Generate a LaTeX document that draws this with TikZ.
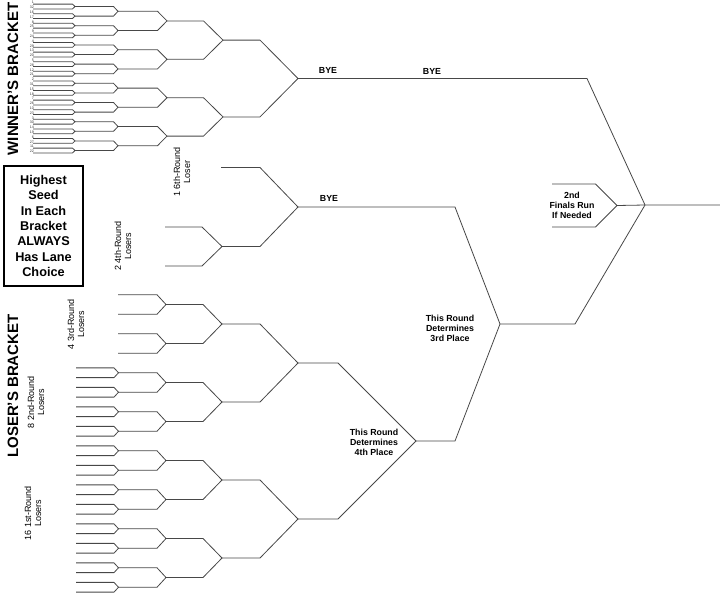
\documentclass[tikz,border=0pt]{standalone}
\usepackage{fontspec}
\setmainfont{Liberation Sans}
\usetikzlibrary{positioning}

% one bout: start x, bend x, tip x, centre y, half gap, name of tip
\newcommand\bout[6]{%
  \draw[ln] (#1,#4-#5) -- (#2,#4-#5) -- (#3,#4) coordinate (#6) -- (#2,#4+#5) -- (#1,#4+#5);}

\begin{document}
\begin{tikzpicture}[
  x=1pt, y=-1pt,
  ln/.style={draw=black!72, line width=0.8pt},
  seed/.style={font=\fontsize{3.6}{4}\selectfont, anchor=south east, inner sep=0pt, text=black!80},
  big/.style={font=\fontsize{15}{17}\selectfont\bfseries, rotate=90, inner sep=0pt},
  lbl/.style={font=\fontsize{8.8}{10}\selectfont\bfseries, align=center, inner sep=1pt},
  side/.style={font=\fontsize{9}{10}\selectfont, align=center, rotate=90, inner sep=0pt},
  box/.style={draw, line width=1.3pt, minimum width=79pt, minimum height=120pt, align=center,
    font=\fontsize{12.7}{15.3}\selectfont\bfseries}
]
\useasboundingbox (0,0) rectangle (720,595);

% winner's bracket
\foreach \i in {0,...,15} {\bout{33}{72.5}{75}{6.5+9.6*\i}{2.4}{w1-\i}}
\foreach \j in {0,...,7} {\bout{75}{113.5}{118}{11.3+19.2*\j}{4.8}{w2-\j}}
\foreach \k in {0,...,3} {\bout{118}{157.5}{167}{20.9+38.4*\k}{9.6}{w3-\k}}
\foreach \m in {0,1} {\bout{167}{203.5}{223}{40.1+76.8*\m}{19.2}{w4-\m}}
\bout{223}{260}{298}{78.5}{38.4}{w5}

\foreach \s [count=\n from 0] in {1,32,16,17,8,25,9,24,4,29,13,20,5,28,12,21,2,31,15,18,7,26,10,23,3,30,14,19,6,27,11,22}
  \node[seed] (seed\n) at (34,4.1+4.8*\n) {\s};

% loser's bracket
\foreach \k in {2,...,7} {
  \foreach \p in {0,1} {\bout{76}{114}{118.5}{294.75+39*\k+19.5*\p}{4.875}{l1-\k-\p}}}
\foreach \k in {0,...,7} {\bout{118}{157}{166}{304.5+39*\k}{9.75}{l2-\k}}
\foreach \n in {0,...,3} {\bout{166}{203}{222}{324+78*\n}{19.5}{l3-\n}}
\foreach \p in {0,1} {\bout{222}{260}{298}{363+156*\p}{39}{l4-\p}}
\bout{298}{338}{416}{441}{78}{l5}

\bout{165}{202}{222}{246.5}{19.5}{u1}
\bout{221}{260}{298}{207}{39.5}{u2}

% finals
\draw[ln] (u2) -- (455,207) -- (500,324) coordinate (third) -- (455,441) -- (l5);
\draw[ln] (w5) -- (587,78.5) -- (645,205) coordinate (fin) -- (575,324) -- (third);
\bout{552}{595.5}{617}{205.5}{21.5}{sec}
\draw[ln] (sec) -- (fin) -- (720,205);

% labels
\node[big] (wlab) at (13,79) {WINNER'S BRACKET};
\node[big] (llab) at (13,386) {LOSER'S BRACKET};
\node[box] (note) at (43.5,226) {Highest\\Seed\\In Each\\Bracket\\ALWAYS\\Has Lane\\Choice};

\node[side] (r6) at (182,172) {1 6th-Round\\Loser};
\node[side] (r4) at (123,246) {2 4th-Round\\Losers};
\node[side] (r3) at (76,324) {4 3rd-Round\\Losers};
\node[side] (r2) at (36,402) {8 2nd-Round\\Losers};
\node[side] (r1) at (33,513) {16 1st-Round\\Losers};

\node[lbl] (bye1) at (328,70) {BYE};
\node[lbl] (bye2) at (432,71) {BYE};
\node[lbl] (bye3) at (329,198) {BYE};
\node[lbl] (det3) at (450,328) {This Round\\Determines\\3rd Place};
\node[lbl] (det4) at (374,442) {This Round\\Determines\\4th Place};
\node[lbl] (fin2) at (572,205) {2nd\\Finals Run\\If Needed};

\end{tikzpicture}
\end{document}
